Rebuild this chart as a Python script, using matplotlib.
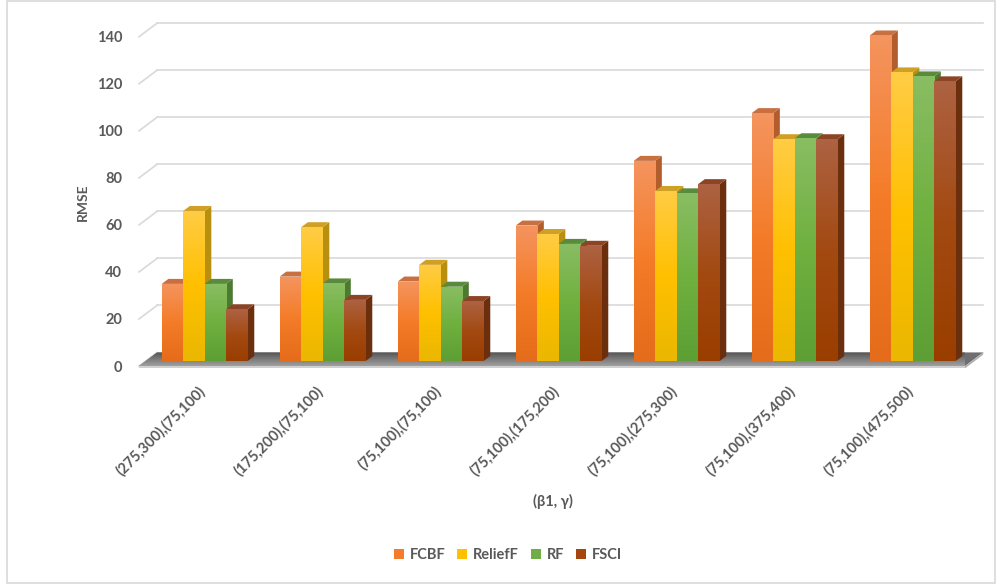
import numpy as np
import matplotlib.pyplot as plt
from matplotlib.patches import Polygon, Rectangle
from matplotlib.colors import LinearSegmentedColormap

# data
categories = ['(275,300),(75,100)', '(175,200),(75,100)', '(75,100),(75,100)',
              '(75,100),(175,200)', '(75,100),(275,300)', '(75,100),(375,400)',
              '(75,100),(475,500)']
series_names = ['FCBF', 'ReliefF', 'RF', 'FSCI']
fcbf = [32.8, 35.9, 33.8, 57.6, 85.1, 105.4, 138.4]
relieff = [63.8, 56.9, 40.9, 54.0, 72.3, 94.3, 122.7]
rf = [32.8, 33.0, 31.6, 49.8, 71.3, 94.7, 121.0]
fsci = [22.0, 26.0, 25.5, 49.0, 75.2, 94.3, 118.9]
yticks = [0, 20, 40, 60, 80, 100, 120, 140]

# colours: legend, front gradient (top, mid, bottom), side, top face
legend_cols = ['#f47b2a', '#ffc000', '#70ad47', '#a5460f']
front_cols = [('#f4945e', '#f47c28', '#e56c1a'),
              ('#ffcc44', '#ffc000', '#ebb700'),
              ('#89bd62', '#6fb03f', '#5e9f35'),
              ('#ad6242', '#a34a12', '#9a3e00')]
side_cols = ['#b35d2c', '#b8900f', '#4b7a30', '#6c2f0e']
top_cols = ['#c8703f', '#cfa024', '#5a8a3b', '#8c4424']
text_col = '#595959'

plt.rcParams['font.family'] = ['Lato', 'DejaVu Sans']

fig = plt.figure(figsize=(9.97, 5.84), dpi=100)
ax = fig.add_axes([139 / 997, 210.9 / 584, 826 / 997, 359.9 / 584])
xmin, xmax = -0.5, 6.5
ax.set_xlim(xmin, xmax)
ax.set_ylim(-3, 150)

# oblique "3d" offsets for the full floor depth
DX, DY = 0.1525, 5.74
d0, dd = 0.37, 0.37   # bar front depth and bar depth (fractions)
bx, by = d0 * DX, d0 * DY
sx, sy = dd * DX, dd * DY

# back wall grid + left diagonals
for v in yticks:
    ax.plot([xmin + DX, xmax + DX], [v + DY, v + DY], color='#d9d9d9', lw=1.2,
            zorder=0, clip_on=False)
    ax.plot([xmin, xmin + DX], [v, v + DY], color='#d9d9d9', lw=1.2,
            zorder=0, clip_on=False)

# floor
floor = Polygon([(xmin, 0), (xmax, 0), (xmax + DX, DY), (xmin + DX, DY)],
                closed=True, facecolor='#6e6e6e', edgecolor='none', zorder=1,
                clip_on=False)
ax.add_patch(floor)
grad = np.linspace(0, 1, 64).reshape(-1, 1)
floor_cmap = LinearSegmentedColormap.from_list('fl', ['#a0a0a0', '#555555'])
im = ax.imshow(grad, cmap=floor_cmap, extent=(xmin, xmax + DX, 0, DY),
               origin='lower', aspect='auto', zorder=1)
im.set_clip_path(floor)
im.set_clip_box(None)
ax.add_patch(Polygon([(xmin, -1.0), (xmax, -1.0), (xmax, 0), (xmin, 0)],
                     closed=True, facecolor='#d0d0d0', edgecolor='none',
                     zorder=1, clip_on=False))
ax.add_patch(Polygon([(xmax, -1.0), (xmax + DX, DY - 1.0), (xmax + DX, DY), (xmax, 0)],
                     closed=True, facecolor='#b0b0b0', edgecolor='none',
                     zorder=1, clip_on=False))

# bars
w = 0.182
x = np.arange(len(categories))
handles = []
z = 2
for g in range(len(categories)):
    for s, vals in enumerate([fcbf, relieff, rf, fsci]):
        v = vals[g]
        x0 = g + (s - 1.5) * w - w / 2 + bx
        x1 = x0 + w
        top = by + v
        side = Polygon([(x1, by), (x1 + sx, by + sy), (x1 + sx, top + sy), (x1, top)],
                       closed=True, facecolor=side_cols[s], edgecolor='none', zorder=z)
        ax.add_patch(side)
        cap = Polygon([(x0, top), (x1, top), (x1 + sx, top + sy), (x0 + sx, top + sy)],
                      closed=True, facecolor=top_cols[s], edgecolor='none', zorder=z)
        ax.add_patch(cap)
        b = ax.bar(x0, v, width=w, bottom=by, align='edge', color=legend_cols[s],
                   edgecolor='none', zorder=z + 0.1)
        cmap = LinearSegmentedColormap.from_list('c%d' % s, list(front_cols[s])[::-1])
        gi = ax.imshow(grad, cmap=cmap, extent=(x0, x1, by, top), origin='lower',
                       aspect='auto', zorder=z + 0.2)
        gi.set_clip_path(b[0])
        if g == 0:
            handles.append(b[0])
        z += 1

ax.set_xlim(xmin, xmax)
ax.set_ylim(-3, 150)

for sp in ax.spines.values():
    sp.set_visible(False)
ax.set_yticks(yticks)
ax.set_yticklabels([str(t) for t in yticks], fontsize=10.5, fontweight='bold', color=text_col)
ax.set_xticks(x)
ax.set_xticklabels(categories, rotation=45, ha='right', rotation_mode='anchor',
                   fontsize=10.5, fontweight='bold', color=text_col)
ax.tick_params(axis='y', length=0, pad=12)
ax.tick_params(axis='x', length=0, pad=8)

fig.text(83 / 997, 1 - 202 / 584, 'RMSE', rotation=90, ha='center', va='center',
         fontsize=10, fontweight='bold', color=text_col)
fig.text(553 / 997, 1 - 501 / 584, '(β1, γ)', ha='center', va='center',
         fontsize=10.5, fontweight='bold', color=text_col)

fig.legend(handles, series_names, loc='center', bbox_to_anchor=(508 / 997, 1 - 555 / 584),
           ncol=4, frameon=False, handlelength=0.7, handleheight=0.7,
           handletextpad=0.4, columnspacing=0.8,
           prop={'size': 10.5, 'weight': 'bold'}, labelcolor=text_col)

fig.patches.append(Rectangle((7 / 997, 1.5 / 584), 988 / 997, 0.996, transform=fig.transFigure,
                             fill=False, edgecolor='#d9d9d9', lw=1.2))

fig.savefig('out.png', dpi=100)
